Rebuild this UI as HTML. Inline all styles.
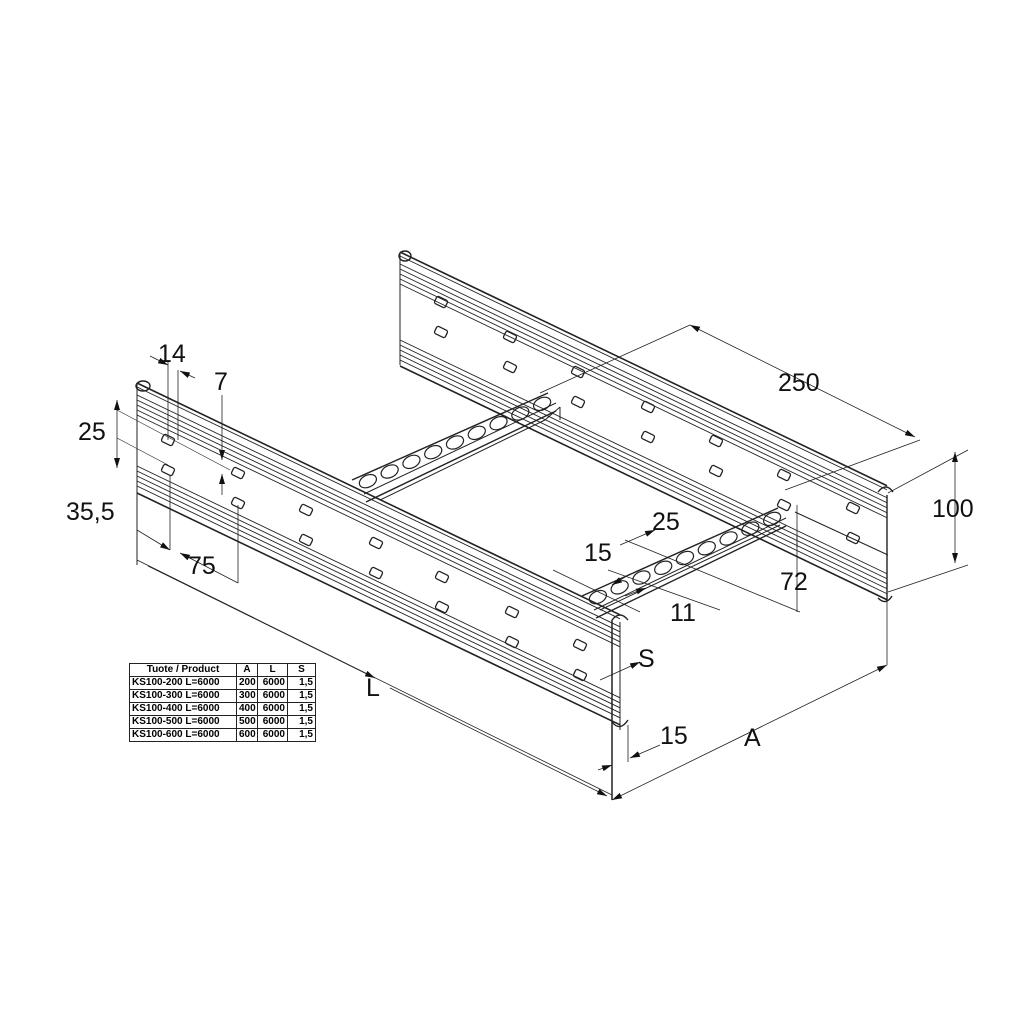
<!DOCTYPE html>
<html><head><meta charset="utf-8"><style>
html,body{margin:0;padding:0;background:#fff;}
svg{display:block}
text{font-family:"Liberation Sans",sans-serif;fill:#111}
table{position:absolute;left:129px;top:663px;border-collapse:collapse;font-family:"Liberation Sans",sans-serif;font-size:10px;font-weight:bold;line-height:12px;table-layout:fixed;width:186px}
td{border:1px solid #222;padding:0 2px;height:12px;white-space:nowrap;overflow:hidden;text-align:right}
</style></head><body>
<div style="position:relative;width:1024px;height:1024px;overflow:hidden">
<svg id="s" width="1024" height="1024" viewBox="0 0 1024 1024" xmlns="http://www.w3.org/2000/svg">
<defs><marker id="ar" viewBox="0 0 10 6" refX="10" refY="3" markerWidth="10" markerHeight="6" orient="auto-start-reverse" markerUnits="userSpaceOnUse"><path d="M0,0L10,3L0,6z" fill="#111"/></marker></defs>
<g id="g" stroke="#222" stroke-width="1" fill="none"></g>
<g font-size="25">
<text x="158" y="362">14</text>
<text x="214" y="390">7</text>
<text x="78" y="440">25</text>
<text x="66" y="520">35,5</text>
<text x="188" y="574">75</text>
<text x="366" y="696">L</text>
<text x="778" y="391">250</text>
<text x="932" y="517">100</text>
<text x="780" y="590">72</text>
<text x="652" y="530">25</text>
<text x="584" y="561">15</text>
<text x="670" y="621">11</text>
<text x="638" y="667">S</text>
<text x="660" y="744">15</text>
<text x="744" y="746">A</text>
</g>
</svg>
<table>
<colgroup><col style="width:107px"><col style="width:21px"><col style="width:30px"><col style="width:28px"></colgroup>
<tr><td style="text-align:center">Tuote / Product</td><td style="text-align:center">A</td><td style="text-align:center">L</td><td style="text-align:center">S</td></tr>
<tr><td style="text-align:left">KS100-200 L=6000</td><td>200</td><td>6000</td><td>1,5</td></tr>
<tr><td style="text-align:left">KS100-300 L=6000</td><td>300</td><td>6000</td><td>1,5</td></tr>
<tr><td style="text-align:left">KS100-400 L=6000</td><td>400</td><td>6000</td><td>1,5</td></tr>
<tr><td style="text-align:left">KS100-500 L=6000</td><td>500</td><td>6000</td><td>1,5</td></tr>
<tr><td style="text-align:left">KS100-600 L=6000</td><td>600</td><td>6000</td><td>1,5</td></tr>
</table>
</div>
<script>
var g=document.getElementById('g'),NS='http://www.w3.org/2000/svg';
function el(t,a){var e=document.createElementNS(NS,t);for(var k in a)e.setAttribute(k,a[k]);g.appendChild(e);return e;}
function L(x1,y1,x2,y2,w,m){var a={x1:x1,y1:y1,x2:x2,y2:y2};if(w)a['stroke-width']=w;var e=el('line',a);if(m){e.setAttribute('marker-end','url(#ar)');if(m==2)e.setAttribute('marker-start','url(#ar)');}return e;}
function slot(x,y){el('rect',{x:x-6,y:y-4,width:12,height:8,rx:2,transform:'rotate(26 '+x+' '+y+')','stroke-width':1.3});}
var s=0.48;
function rail(x0,y0,x1,offs,slots){
  for(var i=0;i<offs.length;i++){var o=offs[i];L(x0,y0+o,x1,y0+o+(x1-x0)*s,(i==0||i==offs.length-1)?1.6:0.9);}
  slots.forEach(function(p){slot(p[0],p[1]);slot(p[0],p[1]+30);});
}
rail(137,383,620,[0,4,12,17,22,27,32,83,88,93,98,103,110],[[168,440],[238,473],[306,510],[376,543],[442,577],[512,612],[580,645]]);
el('ellipse',{cx:143,cy:386,rx:7,ry:5,'stroke-width':1.4});
L(137,383,137,565,1);L(612,620,612,800,1.5);L(620,622,620,730,1);
el('path',{d:'M612,620 q8,-10 16,0 M612,722 q8,10 16,-2','stroke-width':1.4});
rail(400,252,887,[0,4,12,17,22,27,32,88,93,98,103,108,114],[[441,302],[510,337],[578,372],[648,407],[716,441],[784,475],[853,508]]);
el('ellipse',{cx:405,cy:256,rx:6,ry:5,'stroke-width':1.4});
L(400,252,400,365,1);L(887,495,887,600,1.4);L(887,600,887,665,0.8);
el('path',{d:'M878,492 q8,-10 15,0 M878,598 q8,8 14,-2','stroke-width':1.4});
L(380,500,545,420,1);L(545,420,560,407,1);L(560,407,560,420,1);
L(600,610,780,525,1);L(795,512,888,555,1);
function rung(x0,y0,x1,y1,n){L(x0,y0,x1,y1,1.4);L(x0+12,y0+14,x1+8,y1+10,1);L(x0+14,y0+22,x1+8,y1+18,1.4);
 for(var i=0;i<n;i++){var t=(i+0.5)/n;var cx=x0+(x1-x0)*t+5,cy=y0+(y1-y0)*t+6;el('ellipse',{cx:cx,cy:cy,rx:9,ry:6,transform:'rotate(-25 '+cx+' '+cy+')','stroke-width':1.2});}}
rung(352,480,548,393,9);rung(582,596,778,508,9);
L(137,560,612,795,0.8);L(148,566,375,678,0.8,1);L(390,688,607,796,0.8,1);
L(612,800,887,665,0.8,2);
L(628,725,628,762,0.8);L(598,770,612,765,0.8,1);L(660,745,630,758,0.8,1);
L(540,393,690,325,0.8);L(785,490,920,440,0.8);
L(690,325,915,437,0.8,2);
L(888,592,968,565,0.8);L(888,493,968,450,0.8);L(955,452,955,563,0.8,2);
L(797,505,797,612,0.8);L(797,535,797,548,0.8);
L(625,540,800,612,0.8);L(608,570,720,610,0.8);L(553,570,640,612,0.8);
L(620,545,655,530,0.8,1);L(630,574,612,585,0.8,1);L(625,596,646,588,0.8,1);
L(600,680,640,662,0.8,1);
L(117,400,117,468,0.8,2);L(117,410,230,470,0.6);L(117,438,168,465,0.6);
L(137,530,170,550,0.8,1);L(238,583,180,553,0.8,1);L(170,475,170,550,0.8);L(238,505,238,583,0.8);
L(168,360,168,440,0.8);L(178,370,178,440,0.8);L(150,356,168,365,0.8,1);L(195,378,180,371,0.8,1);
L(222,395,222,460,0.8,1);L(222,495,222,474,0.8,1);
</script>
</body></html>
